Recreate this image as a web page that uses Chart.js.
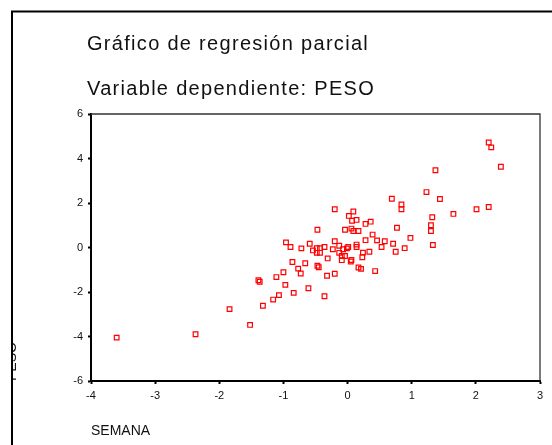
<!DOCTYPE html>
<html>
<head>
<meta charset="utf-8">
<script src="https://cdn.jsdelivr.net/npm/chart.js@4/dist/chart.umd.min.js"></script>
<style>
  html, body { margin: 0; padding: 0; background: #fff; }
  #wrap { width: 552px; height: 445px; position: relative; }
</style>
</head>
<body>
<div id="wrap"><canvas id="scatter"></canvas></div>
<script>
// residuals
const semana = [
  -3.60, -2.37, -1.84, -1.52, -1.39, -1.37, -1.32, -1.16, -1.11, -1.07,
  -1.00, -0.97, -0.96, -0.89, -0.86, -0.84, -0.77, -0.73, -0.72, -0.66,
  -0.61, -0.59, -0.54, -0.48, -0.43, -0.48, -0.43, -0.47, -0.45, -0.47,
  -0.36, -0.36, -0.32, -0.31, -0.23, -0.20, -0.20, -0.20, -0.13, -0.13,
  -0.09, -0.09, -0.07, -0.04, -0.01, 0.01, -0.04, 0.02, 0.06, 0.09,
  0.05, 0.06, 0.09, 0.07, 0.14, 0.14, 0.14, 0.17, 0.17, 0.21,
  0.23, 0.24, 0.28, 0.28, 0.34, 0.36, 0.39, 0.43, 0.46, 0.53,
  0.58, 0.69, 0.71, 0.75, 0.77, 0.84, 0.84, 0.89, 0.98, 1.23,
  1.30, 1.30, 1.32, 1.33, 1.37, 1.44, 1.65, 2.01, 2.20, 2.20,
  2.24, 2.39
];
const peso = [
  -4.05, -3.90, -2.77, -3.48, -1.47, -1.54, -2.62, -2.34, -1.33, -2.14,
  -1.11, -1.68, 0.23, 0.02, -0.65, -2.04, -0.95, -1.17, -0.04, -0.71,
  -1.83, 0.17, -0.13, -0.03, -0.03, -0.24, -0.24, -0.82, -0.89, 0.80,
  0.02, -2.19, -1.27, -0.49, -0.08, 0.28, -1.18, 1.72, 0.08, -0.24,
  -0.38, -0.57, -0.08, -0.38, -0.04, 0.02, 0.80, 1.42, 0.85, 0.74,
  -0.63, -0.56, 1.62, 1.20, 1.24, 0.13, 0.02, 0.74, -0.90, -0.96,
  -0.44, -0.23, 1.06, 0.33, -0.19, 1.16, 0.58, -1.06, 0.32, 0.02,
  0.28, 2.19, 0.17, -0.19, 0.89, 1.93, 1.72, -0.03, 0.43, 2.49,
  1.00, 0.74, 1.36, 0.11, 3.47, 2.18, 1.51, 1.72, 1.82, 4.72,
  4.50, 3.63
];
const xTicks = [-4, -3, -2, -1, 0, 1, 2, 3];
const yTicks = [-6, -4, -2, 0, 2, 4, 6];
const titleLines = ['Gráfico de regresión parcial', 'Variable dependiente: PESO'];
const xTitle = 'SEMANA';
const yTitle = 'PESO';

const FONT = '"Liberation Sans", Arial, sans-serif';

const points = semana.map((x, i) => ({ x: x, y: peso[i] }));

// SPSS style frame, titles and plot box
const spssFrame = {
  id: 'spssFrame',
  afterDraw(chart) {
    const ctx = chart.ctx;
    const a = chart.chartArea;
    ctx.save();
    // the y title is cut by the frame in the original
    ctx.fillStyle = '#fff';
    ctx.fillRect(0, 0, 12, chart.height);
    ctx.fillRect(0, 0, chart.width, 11);

    ctx.strokeStyle = '#000';
    ctx.lineWidth = 2;
    ctx.strokeRect(12, 11.5, chart.width + 20, chart.height + 20);

    // top/right of the plot box
    ctx.strokeStyle = '#333';
    ctx.lineWidth = 1.3;
    ctx.beginPath();
    ctx.moveTo(a.left, a.top);
    ctx.lineTo(a.right, a.top);
    ctx.lineTo(a.right, a.bottom);
    ctx.stroke();

    ctx.fillStyle = '#111';
    ctx.font = '20px ' + FONT;
    ctx.letterSpacing = '1.3px';
    ctx.textBaseline = 'alphabetic';
    ctx.textAlign = 'left';
    ctx.fillText(titleLines[0], 87, 50);
    ctx.fillText(titleLines[1], 87, 95);
    ctx.restore();
  }
};

new Chart(document.getElementById('scatter'), {
  type: 'scatter',
  data: {
    datasets: [{
      label: 'PESO',
      data: points,
      pointStyle: 'rect',
      pointRadius: 3.3,
      pointHoverRadius: 3.3,
      borderWidth: 1.2,
      borderColor: '#ff0000',
      backgroundColor: 'rgba(0,0,0,0)'
    }]
  },
  options: {
    responsive: true,
    maintainAspectRatio: false,
    animation: false,
    events: [],
    layout: { padding: { top: 114, right: 12, left: 0, bottom: 0 } },
    plugins: {
      legend: { display: false },
      tooltip: { enabled: false },
      title: { display: false }
    },
    scales: {
      x: {
        type: 'linear',
        min: -4,
        max: 3,
        afterBuildTicks: (scale) => { scale.ticks = xTicks.map(v => ({ value: v })); },
        afterFit: (scale) => { scale.height = 64; },
        border: { display: true, color: '#000', width: 2 },
        grid: { drawOnChartArea: false, drawTicks: true, tickLength: 3, tickWidth: 2, color: '#000' },
        ticks: { color: '#111', font: { family: FONT, size: 11 }, padding: 5, maxRotation: 0 },
        title: {
          display: true, text: xTitle, align: 'start', color: '#111',
          font: { family: FONT, size: 14 }, padding: { top: 0, bottom: 5 }
        }
      },
      y: {
        type: 'linear',
        min: -6,
        max: 6,
        afterBuildTicks: (scale) => { scale.ticks = yTicks.map(v => ({ value: v })); },
        afterFit: (scale) => { scale.width = 91; },
        border: { display: true, color: '#000', width: 2 },
        grid: { drawOnChartArea: false, drawTicks: true, tickLength: 3, tickWidth: 2, color: '#000' },
        ticks: { color: '#111', font: { family: FONT, size: 11 }, padding: 5 },
        title: {
          display: true, text: yTitle, align: 'start', color: '#111',
          font: { family: FONT, size: 14 }, padding: { top: 4, bottom: 0 }
        }
      }
    }
  },
  plugins: [spssFrame]
});
</script>
</body>
</html>
